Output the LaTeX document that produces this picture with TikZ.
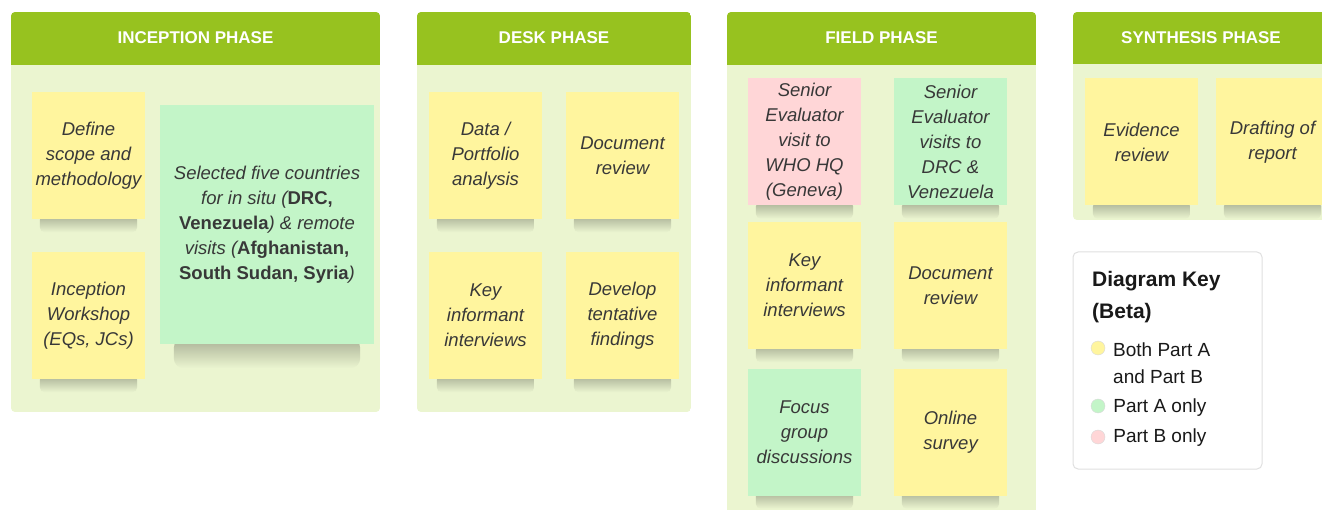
\documentclass[tikz,border=0pt]{standalone}
\usepackage{fontspec}
\setmainfont{Liberation Sans}
\usepackage{xcolor}
\usetikzlibrary{positioning}

\definecolor{headgreen}{HTML}{97C21F}
\definecolor{panelbg}{HTML}{EBF5D0}
\definecolor{stickyyellow}{HTML}{FFF59E}
\definecolor{stickygreen}{HTML}{C3F5C8}
\definecolor{stickypink}{HTML}{FFD6D7}
\definecolor{textgray}{HTML}{383838}

\pgfdeclarelayer{panels}
\pgfdeclarelayer{shades}
\pgfsetlayers{panels,shades,main}

\begin{document}
\begin{tikzpicture}[
  x=1pt, y=-1pt,
  sticky/.style={rectangle, align=center, text=textgray, inner sep=2pt,
    font=\fontsize{18.5}{25}\selectfont\itshape, minimum width=113pt, minimum height=127pt},
  stickyshade/.style={top color=black!28!panelbg, bottom color=panelbg, rounded corners=5pt},
  phasetitle/.style={text=white, font=\fontsize{17}{20}\selectfont\bfseries},
  keytext/.style={align=left, inner sep=0pt, text=black!90, font=\fontsize{19}{27}\selectfont},
  keydot/.style={circle, draw=black!15, minimum size=14pt, inner sep=0pt}
]
  \useasboundingbox (0,0) rectangle (1322,510);
  \clip (0,0) rectangle (1322,510);

  % Panels
  \begin{pgfonlayer}{panels}
  \begin{scope}
    \clip[rounded corners=4pt] (11,12) rectangle (380,412);
    \fill[panelbg] (11,12) rectangle (380,412);
    \fill[headgreen] (11,12) rectangle (380,65);
  \end{scope}
  \begin{scope}
    \clip[rounded corners=4pt] (417,12) rectangle (691,412);
    \fill[panelbg] (417,12) rectangle (691,412);
    \fill[headgreen] (417,12) rectangle (691,65);
  \end{scope}
  \begin{scope}
    \clip[rounded corners=4pt] (727,12) rectangle (1036,540);
    \fill[panelbg] (727,12) rectangle (1036,540);
    \fill[headgreen] (727,12) rectangle (1036,65);
  \end{scope}
  \begin{scope}
    \clip[rounded corners=4pt] (1073,12) rectangle (1329,220);
    \fill[panelbg] (1073,12) rectangle (1329,220);
    \fill[headgreen] (1073,12) rectangle (1329,64);
  \end{scope}
  \end{pgfonlayer}

  % Titles
  \node[phasetitle] (inception) at (195.5,38) {INCEPTION PHASE};
  \node[phasetitle] (desk) at (554,38) {DESK PHASE};
  \node[phasetitle] (field) at (881.5,38) {FIELD PHASE};
  \node[phasetitle] (synthesis) at (1201,38) {SYNTHESIS PHASE};

  % Inception stickies
  \node[sticky, fill=stickyyellow] (define) at (88.5,155.5) {Define\\scope and\\methodology};
  \node[sticky, fill=stickyyellow] (workshop) at (88.5,315.5) {Inception\\Workshop\\(EQs, JCs)};
  \node[sticky, fill=stickygreen, minimum width=214pt, minimum height=239pt] (countries) at (267,224.5)
    {Selected five countries\\for in situ (\textbf{\upshape DRC,}\\\textbf{\upshape Venezuela}) \& remote\\visits (\textbf{\upshape Afghanistan,}\\\textbf{\upshape South Sudan, Syria})};

  % Desk stickies
  \node[sticky, fill=stickyyellow] (portfolio) at (485.5,155.5) {Data /\\Portfolio\\analysis};
  \node[sticky, fill=stickyyellow] (deskdocs) at (622.5,155.5) {Document\\review};
  \node[sticky, fill=stickyyellow] (deskkii) at (485.5,315.5) {Key\\informant\\interviews};
  \node[sticky, fill=stickyyellow] (findings) at (622.5,315.5) {Develop\\tentative\\findings};

  % Field stickies
  \node[sticky, fill=stickypink] (geneva) at (804.5,142) {Senior\\Evaluator\\visit to\\WHO HQ\\(Geneva)};
  \node[sticky, fill=stickygreen] (visits) at (950.5,142) {Senior\\Evaluator\\visits to\\DRC \&\\Venezuela};
  \node[sticky, fill=stickyyellow] (fieldkii) at (804.5,285.5) {Key\\informant\\interviews};
  \node[sticky, fill=stickyyellow] (fielddocs) at (950.5,285.5) {Document\\review};
  \node[sticky, fill=stickygreen] (focus) at (804.5,432) {Focus\\group\\discussions};
  \node[sticky, fill=stickyyellow] (survey) at (950.5,432) {Online\\survey};

  % Synthesis stickies
  \node[sticky, fill=stickyyellow] (evidence) at (1141.5,142) {Evidence\\review};
  \node[sticky, fill=stickyyellow] (drafting) at (1272.5,142) {Drafting of\\report};

  % Shadows under the stickies
  \begin{pgfonlayer}{shades}
    \foreach \n in {define,workshop,portfolio,deskdocs,deskkii,findings,geneva,visits,
                    fieldkii,fielddocs,focus,survey,evidence,drafting}
      \shade[stickyshade] ([xshift=8pt, yshift=4pt]\n.south west) rectangle ([xshift=-8pt, yshift=-13pt]\n.south east);
    \shade[stickyshade, rounded corners=10pt] ([xshift=14pt, yshift=6pt]countries.south west) rectangle ([xshift=-14pt, yshift=-24pt]countries.south east);
  \end{pgfonlayer}

  % Key
  \node[rectangle, draw=black!12, line width=1pt, fill=white, rounded corners=5pt,
    minimum width=189pt, minimum height=217pt] (key) at (1167.5,360.5) {};
  \node[keytext, anchor=west, font=\fontsize{21}{32}\selectfont\bfseries] (keytitle) at (1092,297) {Diagram Key\\(Beta)};
  \node[keydot, fill=stickyyellow] (dotboth) at (1098,348) {};
  \node[keytext, anchor=west] (both) at (1113,363.5) {Both Part A\\and Part B};
  \node[keydot, fill=stickygreen] (dota) at (1098,406) {};
  \node[keytext, right=8pt of dota, yshift=-2pt] (parta) {Part A only};
  \node[keydot, fill=stickypink] (dotb) at (1098,437) {};
  \node[keytext, right=8pt of dotb, yshift=-1pt] (partb) {Part B only};
\end{tikzpicture}
\end{document}
